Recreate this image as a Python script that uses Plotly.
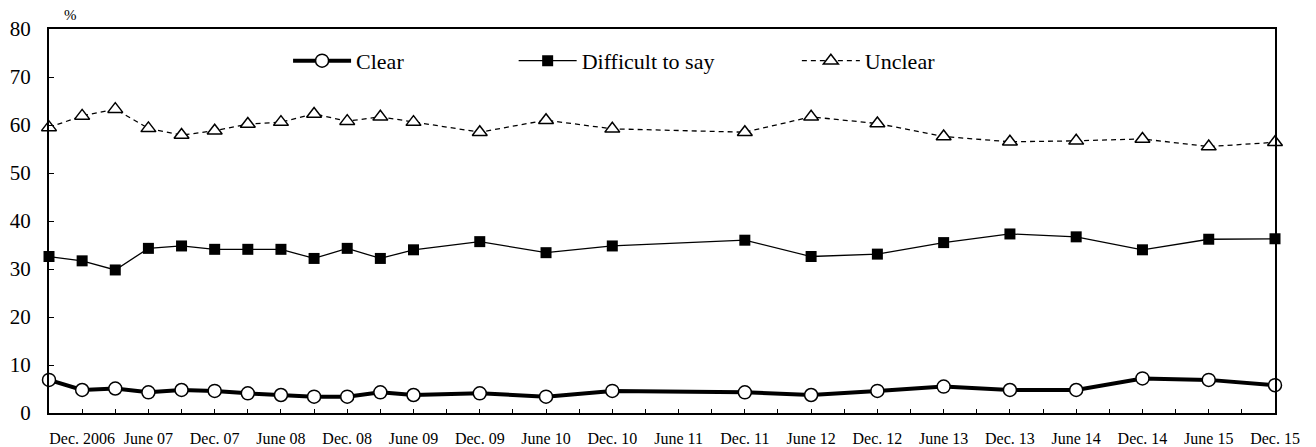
import plotly.graph_objects as go

# Survey positions on the category axis (axis steps), one per survey point
period_idx = [0, 1, 2, 3, 4, 5, 6, 7, 8, 9, 10, 11,
              13, 15, 17, 21, 23, 25, 27, 29, 31, 33, 35, 37]

clear = [6.9, 4.8, 5.1, 4.3, 4.8, 4.6, 4.1, 3.75, 3.4, 3.4, 4.3, 3.75,
         4.1, 3.4, 4.6, 4.3, 3.75, 4.6, 5.5, 4.8, 4.8, 7.2, 6.9, 5.8]
difficult = [32.6, 31.7, 29.8, 34.3, 34.8, 34.1, 34.1, 34.1, 32.2, 34.3, 32.2, 34.0,
             35.7, 33.4, 34.8, 36.0, 32.6, 33.1, 35.5, 37.3, 36.7, 34.0, 36.2, 36.3]
unclear = [59.5, 61.9, 63.3, 59.3, 57.9, 58.8, 60.2, 60.6, 62.3, 60.8, 61.7, 60.6,
           58.5, 61.0, 59.2, 58.5, 61.7, 60.3, 57.6, 56.5, 56.7, 57.1, 55.5, 56.4]

tick_labels = ["Dec. 2006", "June 07", "Dec. 07", "June 08", "Dec. 08", "June 09",
               "Dec. 09", "June 10", "Dec. 10", "June 11", "Dec. 11", "June 12",
               "Dec. 12", "June 13", "Dec. 13", "June 14", "Dec. 14", "June 15", "Dec. 15"]

FONT = "Liberation Serif"

n_steps = 37
tickvals = list(range(n_steps + 1))
ticktext = []
for i in tickvals:
    if i % 2 == 1:
        ticktext.append(tick_labels[(i - 1) // 2])
    else:
        ticktext.append("")

fig = go.Figure()
fig.add_trace(go.Scatter(
    x=period_idx, y=clear, name="Clear", mode="lines+markers",
    line=dict(color="black", width=4),
    marker=dict(symbol="circle", size=13, color="white", line=dict(color="black", width=1.5)),
    legend="legend", showlegend=True, cliponaxis=False))
fig.add_trace(go.Scatter(
    x=period_idx, y=difficult, name="Difficult to say", mode="lines+markers",
    line=dict(color="black", width=1.3),
    marker=dict(symbol="square", size=11, color="black"),
    legend="legend2", showlegend=True, cliponaxis=False))
fig.add_trace(go.Scatter(
    x=period_idx, y=unclear, name="Unclear", mode="lines+markers",
    line=dict(color="black", width=1.3, dash="5px,4px"),
    marker=dict(symbol="triangle-up", size=13, color="white", line=dict(color="black", width=1.5)),
    legend="legend3", showlegend=True, cliponaxis=False))

leg_common = dict(orientation="h", yanchor="middle", xanchor="left", y=0.917,
                  bgcolor="rgba(0,0,0,0)", itemwidth=58, visible=True,
                  font=dict(family=FONT, size=22, color="black"))
fig.update_layout(
    width=1316, height=447,
    showlegend=True,
    margin=dict(l=49, r=41, t=29, b=34, autoexpand=False),
    paper_bgcolor="white", plot_bgcolor="white",
    font=dict(family=FONT, color="black"),
    legend=dict(x=0.195, **leg_common),
    legend2=dict(x=0.379, **leg_common),
    legend3=dict(x=0.61, **leg_common),
    xaxis=dict(range=[0, n_steps], tickvals=tickvals, ticktext=ticktext,
               ticks="inside", ticklen=4, tickcolor="black", tickwidth=1,
               showline=True, linecolor="black", linewidth=2, mirror=True,
               showgrid=False, zeroline=False, ticklabelstandoff=10, automargin=False,
               tickfont=dict(family=FONT, size=16, color="black")),
    yaxis=dict(range=[0, 80], tickvals=[0, 10, 20, 30, 40, 50, 60, 70, 80],
               ticks="inside", ticklen=5, tickcolor="black", tickwidth=1,
               showline=True, linecolor="black", linewidth=2, mirror=True,
               showgrid=False, zeroline=False, ticklabelstandoff=12, automargin=False,
               tickfont=dict(family=FONT, size=21, color="black")),
    annotations=[dict(text="%", xref="paper", yref="paper", x=0.0, y=1.0,
                      xanchor="left", yanchor="bottom", xshift=13, yshift=4,
                      showarrow=False, font=dict(family=FONT, size=15, color="black"))],
)
fig.write_html("out.html", config={"displayModeBar": False},
               post_script="document.body.style.margin='0px';document.body.style.overflow='hidden';")
